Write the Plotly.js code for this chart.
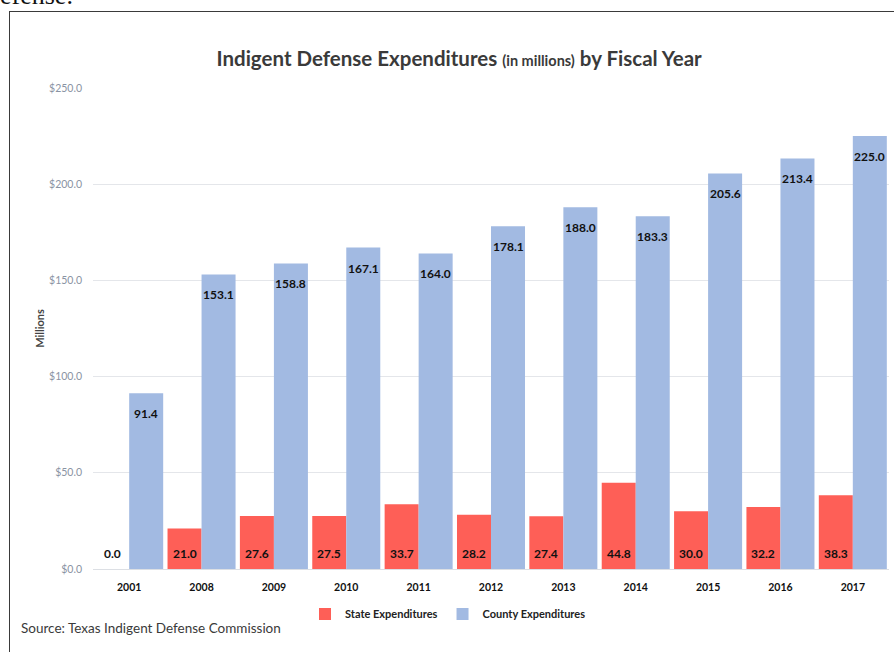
<!DOCTYPE html>
<html>
<head>
<meta charset="utf-8">
<script src="https://cdn.plot.ly/plotly-3.0.1.min.js"></script>
<style>
html,body{margin:0;padding:0;background:#fff;overflow:hidden;}
#wrap{position:relative;width:894px;height:652px;overflow:hidden;}
#frame{position:absolute;left:9px;top:11px;width:900px;height:700px;border:1.5px solid #3a3a3a;box-sizing:border-box;}
#doc{position:absolute;left:0px;top:-19px;font-family:"Liberation Serif",serif;font-size:26px;color:#111;margin:0;white-space:nowrap;}
#chart{position:absolute;left:0;top:0;width:894px;height:652px;}
</style>
</head>
<body>
<div id="wrap">
<div id="doc">efense.</div>
<div id="frame"></div>
<div id="chart"></div>
</div>
<script>
const years = ["2001","2008","2009","2010","2011","2012","2013","2014","2015","2016","2017"];
const stateExp = [0.0,21.0,27.6,27.5,33.7,28.2,27.4,44.8,30.0,32.2,38.3];
const countyExp = [91.4,153.1,158.8,167.1,164.0,178.1,188.0,183.3,205.6,213.4,225.0];
const yTicks = [0,50,100,150,200,250];

const FONT = "Lato, 'Open Sans', sans-serif";
const labelFont = {family: FONT, size: 12, color: "#111", weight: 700};
const BAR_OFFSET = 17; // half of a bar width in px (group of two)

const traces = [
  {type: "bar", name: "State Expenditures", x: years, y: stateExp,
   marker: {color: "#FE5F57"}, hoverinfo: "skip"},
  {type: "bar", name: "County Expenditures", x: years, y: countyExp,
   marker: {color: "#A2BAE2"}, hoverinfo: "skip"}
];

const annotations = [];
years.forEach((yr, i) => {
  annotations.push({
    x: i, y: 0, xref: "x", yref: "y", xshift: -BAR_OFFSET, yshift: 6,
    yanchor: "bottom", xanchor: "center", showarrow: false,
    text: "<b>" + stateExp[i].toFixed(1) + "</b>", font: labelFont
  });
  annotations.push({
    x: i, y: countyExp[i], xref: "x", yref: "y", xshift: BAR_OFFSET, yshift: -11,
    yanchor: "top", xanchor: "center", showarrow: false,
    text: "<b>" + countyExp[i].toFixed(1) + "</b>", font: labelFont
  });
});
annotations.push({
  text: "Source: Texas Indigent Defense Commission", showarrow: false,
  xref: "paper", yref: "paper", x: (19-93)/796, xanchor: "left",
  y: (569-628)/481, yanchor: "middle",
  font: {family: FONT, size: 13.5, color: "#3a3a3a"}
});

const layout = {
  width: 894, height: 652,
  paper_bgcolor: "rgba(0,0,0,0)", plot_bgcolor: "rgba(0,0,0,0)",
  margin: {l: 93, r: 5, t: 88, b: 83, pad: 0},
  font: {family: FONT, color: "#333"},
  barmode: "group", bargap: 0.06, bargroupgap: 0,
  title: {
    text: "<b>Indigent Defense Expenditures <span style='font-size:14.5px'>(in millions)</span> by Fiscal Year</b>",
    font: {family: FONT, size: 20.5, color: "#3a3a3a"},
    x: 0.46, xref: "paper", xanchor: "center",
    y: 1 - 59/652, yref: "container", yanchor: "middle"
  },
  xaxis: {
    type: "category", range: [-0.5, years.length - 0.5], autorange: false,
    showgrid: false, showline: false, zeroline: false,
    ticks: "", tickfont: {family: FONT, size: 10.5, color: "#111", weight: 700},
    ticklabelstandoff: 10, fixedrange: true
  },
  yaxis: {
    range: [0, 250], tickvals: yTicks, ticktext: yTicks.map(v => "$" + v.toFixed(1)),
    showgrid: true, gridcolor: "#e4e6ea", gridwidth: 1, zeroline: true, zerolinecolor: "#dcdfe4",
    showline: false, ticks: "", ticklabelstandoff: 10,
    tickfont: {family: FONT, size: 10.5, color: "#8a93a3"},
    title: {text: "<b>Millions</b>", font: {family: FONT, size: 11, color: "#444"}, standoff: 2},
    fixedrange: true
  },
  showlegend: true,
  legend: {
    orientation: "h", x: (448-93)/796, xanchor: "center", y: (569-614)/481, yanchor: "middle",
    font: {family: FONT, size: 11, color: "#222", weight: 700},
    itemwidth: 30, traceorder: "normal", bgcolor: "rgba(0,0,0,0)"
  },
  annotations: annotations
};

Plotly.newPlot("chart", traces, layout, {displayModeBar: false, staticPlot: true});
</script>
</body>
</html>
